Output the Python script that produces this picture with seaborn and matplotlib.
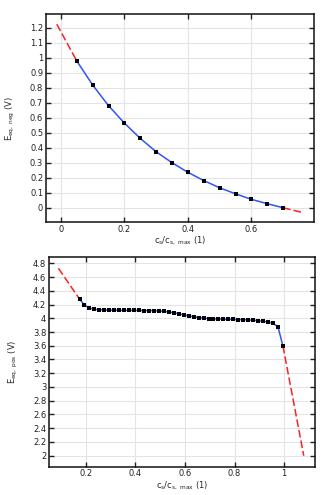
import matplotlib
matplotlib.use("Agg")
import matplotlib.pyplot as plt
import matplotlib.ticker as mticker
import seaborn as sns
import pandas as pd

# ---- data: negative electrode ----
neg_x = [0.05, 0.10, 0.15, 0.20, 0.25, 0.30, 0.35, 0.40, 0.45, 0.50, 0.55, 0.60, 0.65, 0.70]
neg_y = [0.978, 0.818, 0.680, 0.564, 0.462, 0.373, 0.300, 0.236, 0.181, 0.133, 0.093, 0.056, 0.027, 0.0]
neg_ext_left_x = [-0.013, 0.05]
neg_ext_left_y = [1.223, 0.978]
neg_ext_right_x = [0.70, 0.758]
neg_ext_right_y = [0.0, -0.03]

# ---- data: positive electrode ----
pos_x = [0.175, 0.195, 0.215, 0.235, 0.255, 0.275, 0.295, 0.315, 0.335, 0.355,
         0.375, 0.395, 0.415, 0.435, 0.455, 0.475, 0.495, 0.515, 0.535, 0.555,
         0.575, 0.595, 0.615, 0.635, 0.655, 0.675, 0.695, 0.715, 0.735, 0.755,
         0.775, 0.795, 0.815, 0.835, 0.855, 0.875, 0.895, 0.915, 0.935, 0.955,
         0.975, 0.995]
pos_y = [4.280, 4.190, 4.150, 4.130, 4.125, 4.120, 4.118, 4.117, 4.116, 4.116,
         4.115, 4.115, 4.114, 4.113, 4.112, 4.110, 4.106, 4.100, 4.092, 4.080,
         4.066, 4.050, 4.035, 4.022, 4.010, 4.002, 3.996, 3.992, 3.989, 3.987,
         3.985, 3.983, 3.981, 3.979, 3.976, 3.972, 3.966, 3.957, 3.946, 3.928,
         3.875, 3.598]
pos_ext_left_x = [0.09, 0.175]
pos_ext_left_y = [4.727, 4.280]
pos_ext_right_x = [0.995, 1.079]
pos_ext_right_y = [3.598, 2.0]

neg_yticks = [0, 0.1, 0.2, 0.3, 0.4, 0.5, 0.6, 0.7, 0.8, 0.9, 1.0, 1.1, 1.2]
neg_xticks = [0, 0.2, 0.4, 0.6]
pos_yticks = [2.0, 2.2, 2.4, 2.6, 2.8, 3.0, 3.2, 3.4, 3.6, 3.8, 4.0, 4.2, 4.4, 4.6, 4.8]
pos_xticks = [0.2, 0.4, 0.6, 0.8, 1.0]

sns.set_theme(style="ticks")
plt.rcParams['font.family'] = ['DejaVu Sans']

BLUE = "#2f55f5"
RED = "#ff2020"
FS = 6

fig = plt.figure(figsize=(3.25, 4.95), dpi=100)
ax1 = fig.add_axes([0.1415, 0.5515, 0.8245, 0.4202])
ax2 = fig.add_axes([0.1508, 0.0572, 0.8182, 0.4242])


def draw(ax, x, y, lx, ly, rx, ry):
    df = pd.DataFrame({"x": x, "y": y})
    sns.lineplot(data=pd.DataFrame({"x": lx, "y": ly}), x="x", y="y", ax=ax,
                 color=RED, lw=1.1, sort=False)
    ax.lines[-1].set_dashes((5, 2))
    sns.lineplot(data=pd.DataFrame({"x": rx, "y": ry}), x="x", y="y", ax=ax,
                 color=RED, lw=1.1, sort=False)
    ax.lines[-1].set_dashes((5, 2))
    sns.lineplot(data=df, x="x", y="y", ax=ax, color=BLUE, lw=1.1, sort=False)
    sns.scatterplot(data=df, x="x", y="y", ax=ax, color="black", marker="s",
                    s=5, linewidth=0, zorder=5)


def style(ax, xticks, yticks, xlim, ylim, ylabel):
    ax.set_xlim(*xlim)
    ax.set_ylim(*ylim)
    ax.set_xticks(xticks)
    ax.set_yticks(yticks)
    fmt = mticker.FuncFormatter(lambda v, p: "%g" % round(v, 3))
    ax.xaxis.set_major_formatter(fmt)
    ax.yaxis.set_major_formatter(fmt)
    ax.grid(True, color="#e4e4e4", lw=0.8)
    ax.set_axisbelow(True)
    ax.tick_params(direction="in", length=3.5, width=1, labelsize=FS,
                   top=True, right=True, pad=2, colors="#222222")
    for s in ax.spines.values():
        s.set_color("#111111")
        s.set_linewidth(1.1)
    ax.set_xlabel(r"$\mathregular{c_s/c_{s,\ max}}$ (1)", fontsize=FS, labelpad=1)
    ax.set_ylabel(ylabel, fontsize=FS, labelpad=9)


draw(ax1, neg_x, neg_y, neg_ext_left_x, neg_ext_left_y, neg_ext_right_x, neg_ext_right_y)
style(ax1, neg_xticks, neg_yticks, (-0.047, 0.797), (-0.095, 1.291),
      r"$\mathregular{E_{eq,\ neg}}$ (V)")

draw(ax2, pos_x, pos_y, pos_ext_left_x, pos_ext_left_y, pos_ext_right_x, pos_ext_right_y)
style(ax2, pos_xticks, pos_yticks, (0.052, 1.124), (1.84, 4.896),
      r"$\mathregular{E_{eq,\ pos}}$ (V)")

fig.savefig("out.png", dpi=100)
